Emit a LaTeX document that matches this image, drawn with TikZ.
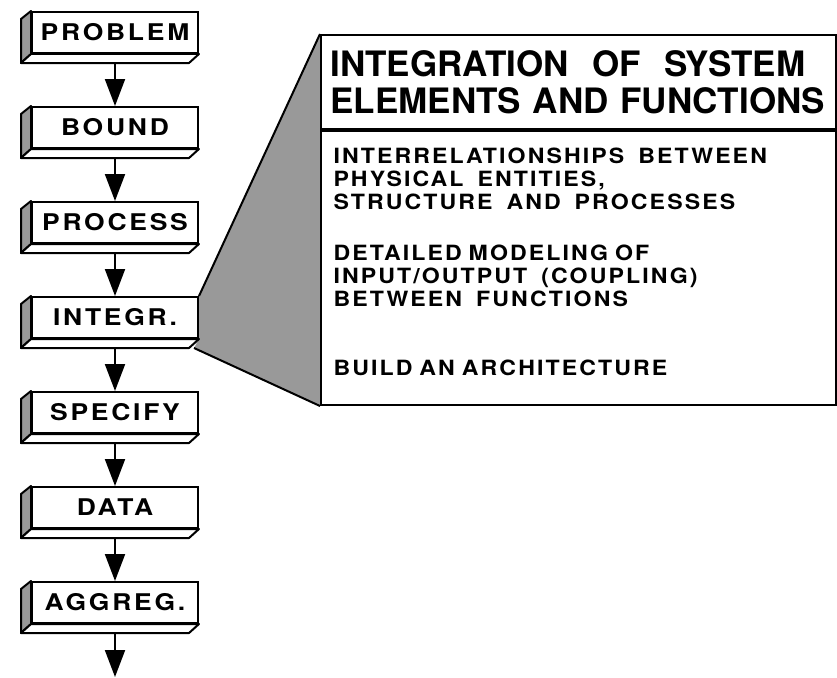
\documentclass[tikz,border=0pt]{standalone}
\usepackage{fontspec}
\setmainfont{TeX Gyre Heros}
\newfontfamily\stepfont[LetterSpace=12, FakeStretch=1.15]{TeX Gyre Heros}
\newfontfamily\bodyfont[LetterSpace=10, FakeStretch=1.1]{TeX Gyre Heros}
\usetikzlibrary{shapes, arrows.meta, positioning, calc, backgrounds}
\tikzstyle{stepbox} = [rectangle, minimum width=166pt, minimum height=41pt, inner sep=0pt, text centered, draw=black, line width=2pt, fill=white, font={\stepfont\bfseries\fontsize{23}{25}\selectfont}]
\tikzstyle{face} = [draw=black, line width=2pt, line join=round]
\tikzstyle{titlebox} = [rectangle, text width=496pt, inner xsep=9.5pt, minimum height=94pt, align=left, draw=black, line width=2pt, fill=white, font={\bfseries\fontsize{35}{37}\selectfont}]
\tikzstyle{infobox} = [rectangle, text width=490pt, inner xsep=12.5pt, minimum height=274pt, align=left, draw=black, line width=2pt, fill=white, font={\bodyfont\bfseries\fontsize{21}{23}\selectfont}]
\tikzstyle{edge} = [line width=2pt, -{Triangle[length=27pt,width=20pt]}, shorten <=9pt]

\begin{document}
\begin{tikzpicture}[x=1pt, y=-1pt, node distance=95pt]
\useasboundingbox (0,0) rectangle (837,677);

\node (0) [stepbox] at (115,32.5) {PROBLEM};
\node (1) [stepbox, below of=0] {BOUND};
\node (2) [stepbox, below of=1] {PROCESS};
\node (3) [stepbox, below of=2] {INTEGR.};
\node (4) [stepbox, below of=3] {SPECIFY};
\node (5) [stepbox, below of=4] {DATA};
\node (6) [stepbox, below of=5] {AGGREG.};
\coordinate (9) at ($(6.south)+(0,53)$);

% side and bottom faces of the blocks
\foreach \n in {0,...,6} {
  \draw [face, fill=black!40] (\n.north west) -- ++(-10,8) -- ($(\n.south west)+(-10,9)$) -- (\n.south west) -- cycle;
  \draw [face, fill=white] (\n.south west) -- ++(-10,9) -- ($(\n.south east)+(-10,9)$) -- (\n.south east) -- cycle;
}

\node (7) [titlebox, anchor=north west] at (320,34) {INTEGRATION\ \ OF\ \ SYSTEM\\ELEMENTS AND FUNCTIONS};
\node (8) [infobox, below=0pt of 7] {INTERRELATIONSHIPS\ \ BETWEEN\\
PHYSICAL\ \ ENTITIES,\\
STRUCTURE\ \ AND\ \ PROCESSES\\[28pt]
DETAILED MODELING OF\\
INPUT/OUTPUT\ \ (COUPLING)\\
BETWEEN\ \ FUNCTIONS\\[46pt]
BUILD AN ARCHITECTURE\rule[-13pt]{0pt}{13pt}};

% zoom wedge from INTEGR. to the callout
\begin{scope}[on background layer]
\fill [black!40] (7.north west) -- (3.north east) -- (3.south east) -- ($(3.south east)+(-5,9)$) -- (8.south west) -- cycle;
\end{scope}
\draw [face] (7.north west) -- (3.north east);
\draw [face] ($(3.south east)+(-5,9)$) -- (8.south west);

\draw [edge] (0) -- (1);
\draw [edge] (1) -- (2);
\draw [edge] (2) -- (3);
\draw [edge] (3) -- (4);
\draw [edge] (4) -- (5);
\draw [edge] (5) -- (6);
\draw [edge] (6) -- (9);

\end{tikzpicture}
\end{document}
